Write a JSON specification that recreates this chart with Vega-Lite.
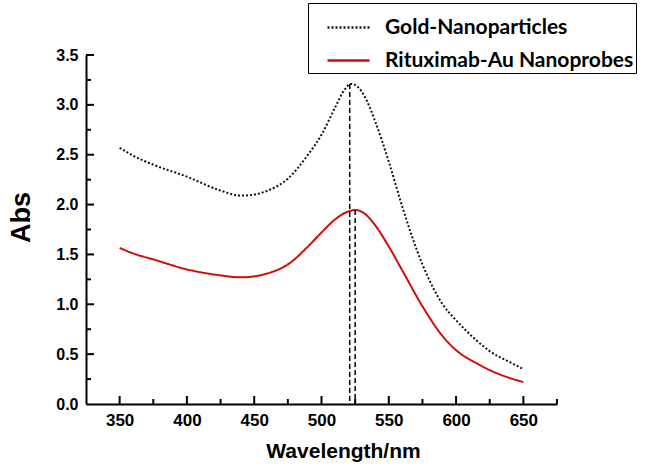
{
  "$schema": "https://vega.github.io/schema/vega-lite/v6.json",
  "width": 471,
  "height": 349,
  "autosize": "none",
  "padding": {"left": 86, "top": 55, "right": 89, "bottom": 64},
  "background": "white",
  "config": {"view": {"stroke": null}},
  "datasets": {
    "curves": [
      {"wl": 350, "abs": 2.57, "series": "Gold-Nanoparticles"},
      {"wl": 360, "abs": 2.49, "series": "Gold-Nanoparticles"},
      {"wl": 375, "abs": 2.4, "series": "Gold-Nanoparticles"},
      {"wl": 400, "abs": 2.28, "series": "Gold-Nanoparticles"},
      {"wl": 425, "abs": 2.14, "series": "Gold-Nanoparticles"},
      {"wl": 440, "abs": 2.09, "series": "Gold-Nanoparticles"},
      {"wl": 450, "abs": 2.1, "series": "Gold-Nanoparticles"},
      {"wl": 460, "abs": 2.14, "series": "Gold-Nanoparticles"},
      {"wl": 475, "abs": 2.26, "series": "Gold-Nanoparticles"},
      {"wl": 490, "abs": 2.5, "series": "Gold-Nanoparticles"},
      {"wl": 500, "abs": 2.7, "series": "Gold-Nanoparticles"},
      {"wl": 510, "abs": 2.97, "series": "Gold-Nanoparticles"},
      {"wl": 517, "abs": 3.15, "series": "Gold-Nanoparticles"},
      {"wl": 522, "abs": 3.21, "series": "Gold-Nanoparticles"},
      {"wl": 527, "abs": 3.18, "series": "Gold-Nanoparticles"},
      {"wl": 533, "abs": 3.06, "series": "Gold-Nanoparticles"},
      {"wl": 540, "abs": 2.83, "series": "Gold-Nanoparticles"},
      {"wl": 550, "abs": 2.43, "series": "Gold-Nanoparticles"},
      {"wl": 560, "abs": 1.98, "series": "Gold-Nanoparticles"},
      {"wl": 575, "abs": 1.4, "series": "Gold-Nanoparticles"},
      {"wl": 590, "abs": 1.0, "series": "Gold-Nanoparticles"},
      {"wl": 600, "abs": 0.84, "series": "Gold-Nanoparticles"},
      {"wl": 615, "abs": 0.64, "series": "Gold-Nanoparticles"},
      {"wl": 625, "abs": 0.53, "series": "Gold-Nanoparticles"},
      {"wl": 640, "abs": 0.42, "series": "Gold-Nanoparticles"},
      {"wl": 650, "abs": 0.35, "series": "Gold-Nanoparticles"},
      {"wl": 350, "abs": 1.565, "series": "Rituximab-Au Nanoprobes"},
      {"wl": 360, "abs": 1.51, "series": "Rituximab-Au Nanoprobes"},
      {"wl": 375, "abs": 1.45, "series": "Rituximab-Au Nanoprobes"},
      {"wl": 400, "abs": 1.35, "series": "Rituximab-Au Nanoprobes"},
      {"wl": 425, "abs": 1.29, "series": "Rituximab-Au Nanoprobes"},
      {"wl": 440, "abs": 1.27, "series": "Rituximab-Au Nanoprobes"},
      {"wl": 450, "abs": 1.28, "series": "Rituximab-Au Nanoprobes"},
      {"wl": 460, "abs": 1.31, "series": "Rituximab-Au Nanoprobes"},
      {"wl": 475, "abs": 1.4, "series": "Rituximab-Au Nanoprobes"},
      {"wl": 490, "abs": 1.58, "series": "Rituximab-Au Nanoprobes"},
      {"wl": 500, "abs": 1.72, "series": "Rituximab-Au Nanoprobes"},
      {"wl": 510, "abs": 1.85, "series": "Rituximab-Au Nanoprobes"},
      {"wl": 518, "abs": 1.92, "series": "Rituximab-Au Nanoprobes"},
      {"wl": 525, "abs": 1.945, "series": "Rituximab-Au Nanoprobes"},
      {"wl": 532, "abs": 1.91, "series": "Rituximab-Au Nanoprobes"},
      {"wl": 540, "abs": 1.79, "series": "Rituximab-Au Nanoprobes"},
      {"wl": 550, "abs": 1.58, "series": "Rituximab-Au Nanoprobes"},
      {"wl": 560, "abs": 1.34, "series": "Rituximab-Au Nanoprobes"},
      {"wl": 575, "abs": 0.98, "series": "Rituximab-Au Nanoprobes"},
      {"wl": 590, "abs": 0.68, "series": "Rituximab-Au Nanoprobes"},
      {"wl": 600, "abs": 0.54, "series": "Rituximab-Au Nanoprobes"},
      {"wl": 615, "abs": 0.41, "series": "Rituximab-Au Nanoprobes"},
      {"wl": 625, "abs": 0.34, "series": "Rituximab-Au Nanoprobes"},
      {"wl": 640, "abs": 0.26, "series": "Rituximab-Au Nanoprobes"},
      {"wl": 650, "abs": 0.22, "series": "Rituximab-Au Nanoprobes"}
    ],
    "peaks": [
      {"wl": 521, "top": 3.21, "base": 0},
      {"wl": 525, "top": 1.945, "base": 0}
    ],
    "xticks": [
      {"wl": 350, "kind": "major"}, {"wl": 375, "kind": "minor"},
      {"wl": 400, "kind": "major"}, {"wl": 425, "kind": "minor"},
      {"wl": 450, "kind": "major"}, {"wl": 475, "kind": "minor"},
      {"wl": 500, "kind": "major"}, {"wl": 525, "kind": "minor"},
      {"wl": 550, "kind": "major"}, {"wl": 575, "kind": "minor"},
      {"wl": 600, "kind": "major"}, {"wl": 625, "kind": "minor"},
      {"wl": 650, "kind": "major"}, {"wl": 675, "kind": "minor"}
    ],
    "yticks": [
      {"v": 0.25, "kind": "minor"}, {"v": 0.5, "kind": "major"},
      {"v": 0.75, "kind": "minor"}, {"v": 1.0, "kind": "major"},
      {"v": 1.25, "kind": "minor"}, {"v": 1.5, "kind": "major"},
      {"v": 1.75, "kind": "minor"}, {"v": 2.0, "kind": "major"},
      {"v": 2.25, "kind": "minor"}, {"v": 2.5, "kind": "major"},
      {"v": 2.75, "kind": "minor"}, {"v": 3.0, "kind": "major"},
      {"v": 3.25, "kind": "minor"}, {"v": 3.5, "kind": "major"}
    ]
  },
  "layer": [
    {
      "data": {"name": "curves"},
      "mark": {"type": "line", "strokeWidth": 2, "interpolate": "monotone"},
      "encoding": {
        "x": {
          "field": "wl", "type": "quantitative",
          "scale": {"domain": [325, 675], "nice": false, "zero": false},
          "axis": {
            "title": "Wavelength/nm",
            "values": [350, 400, 450, 500, 550, 600, 650],
            "grid": false,
            "ticks": false,
            "domainColor": "black", "domainWidth": 2,
            "labelPadding": 8,
            "labelFont": "Liberation Sans", "labelFontWeight": "bold", "labelFontSize": 17, "labelColor": "black",
            "titleFont": "Liberation Sans", "titleFontWeight": "bold", "titleFontSize": 21, "titleColor": "black",
            "titlePadding": 12,
            "titleX": 257
          }
        },
        "y": {
          "field": "abs", "type": "quantitative",
          "scale": {"domain": [0, 3.5], "nice": false},
          "axis": {
            "title": "Abs",
            "values": [0, 0.5, 1, 1.5, 2, 2.5, 3, 3.5],
            "format": ".1f",
            "grid": false,
            "ticks": false,
            "domainColor": "black", "domainWidth": 2,
            "labelPadding": 8,
            "labelFont": "Liberation Sans", "labelFontWeight": "bold", "labelFontSize": 16, "labelColor": "black",
            "titleFont": "Liberation Sans", "titleFontWeight": "bold", "titleFontSize": 27, "titleColor": "black",
            "titlePadding": 20,
            "titleY": 162
          }
        },
        "color": {
          "field": "series", "type": "nominal",
          "scale": {"domain": ["Gold-Nanoparticles", "Rituximab-Au Nanoprobes"], "range": ["#111111", "#d10a0a"]},
          "legend": {
            "title": null,
            "orient": "none",
            "legendX": 222,
            "legendY": -52,
            "direction": "vertical",
            "symbolType": "stroke",
            "symbolSize": 1764,
            "symbolStrokeWidth": 2.5,
            "symbolOffset": 16,
            "labelFont": "Lato", "labelFontWeight": "bold", "labelFontSize": 21, "labelColor": "black",
            "labelOffset": 14,
            "rowPadding": 0,
            "padding": 2,
            "strokeColor": "black",
            "fillColor": "white",
            "labelLimit": 400
          }
        },
        "strokeDash": {
          "field": "series", "type": "nominal",
          "scale": {"domain": ["Gold-Nanoparticles", "Rituximab-Au Nanoprobes"], "range": [[2, 2], [1, 0]]},
          "legend": null
        }
      }
    },
    {
      "data": {"name": "peaks"},
      "mark": {"type": "rule", "color": "black", "strokeWidth": 1.5, "strokeDash": [5, 3]},
      "encoding": {
        "x": {"field": "wl", "type": "quantitative"},
        "y": {"field": "top", "type": "quantitative"},
        "y2": {"field": "base"}
      }
    },
    {
      "data": {"name": "xticks"},
      "transform": [{"filter": "datum.kind == 'major'"}],
      "mark": {"type": "tick", "orient": "vertical", "size": 8, "thickness": 2, "color": "black", "opacity": 1, "yOffset": -4},
      "encoding": {
        "x": {"field": "wl", "type": "quantitative"},
        "y": {"datum": 0, "type": "quantitative"}
      }
    },
    {
      "data": {"name": "xticks"},
      "transform": [{"filter": "datum.kind == 'minor'"}],
      "mark": {"type": "tick", "orient": "vertical", "size": 5, "thickness": 2, "color": "black", "opacity": 1, "yOffset": -2.5},
      "encoding": {
        "x": {"field": "wl", "type": "quantitative"},
        "y": {"datum": 0, "type": "quantitative"}
      }
    },
    {
      "data": {"name": "yticks"},
      "transform": [{"filter": "datum.kind == 'major'"}],
      "mark": {"type": "tick", "orient": "horizontal", "size": 8, "thickness": 2, "color": "black", "opacity": 1, "xOffset": 4},
      "encoding": {
        "y": {"field": "v", "type": "quantitative"},
        "x": {"datum": 325, "type": "quantitative"}
      }
    },
    {
      "data": {"name": "yticks"},
      "transform": [{"filter": "datum.kind == 'minor'"}],
      "mark": {"type": "tick", "orient": "horizontal", "size": 5, "thickness": 2, "color": "black", "opacity": 1, "xOffset": 2.5},
      "encoding": {
        "y": {"field": "v", "type": "quantitative"},
        "x": {"datum": 325, "type": "quantitative"}
      }
    }
  ]
}
